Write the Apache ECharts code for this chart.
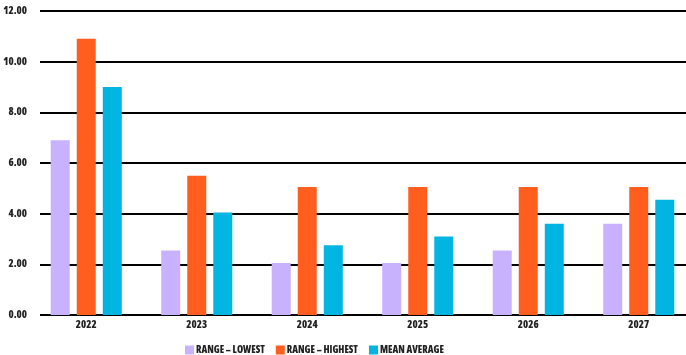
<!DOCTYPE html>
<html><head><meta charset="utf-8">
<script src="https://cdn.jsdelivr.net/npm/echarts@6/dist/echarts.min.js"></script>
<style>html,body{margin:0;padding:0;background:#fff}#c{width:686px;height:355px}</style>
</head><body><div id="c"></div>
<script>
var categories = ['2022','2023','2024','2025','2026','2027'];
var rangeLowest = [6.9, 2.55, 2.05, 2.05, 2.55, 3.6];
var rangeHighest = [10.9, 5.5, 5.05, 5.05, 5.05, 5.05];
var meanAverage = [9.0, 4.05, 2.75, 3.1, 3.6, 4.55];
var seriesNames = ['RANGE – LOWEST', 'RANGE – HIGHEST', 'MEAN AVERAGE'];
var colors = ['#C8B2FE', '#FF5E1F', '#00B5E2'];
var font = '"Open Sans",sans-serif';
var fw = '800 condensed';

var chart = echarts.init(document.getElementById('c'));
chart.setOption({
  animation: false,
  color: colors,
  grid: [
    {left: 40, width: 646, top: 11, bottom: 40, outerBoundsMode: 'none', containLabel: false},
    {left: 31, width: 663, top: 11, bottom: 40, outerBoundsMode: 'none', containLabel: false}
  ],
  legend: {
    left: 180, top: 340, itemWidth: 9, itemHeight: 9, itemGap: 11,
    icon: 'rect',
    textStyle: {fontFamily: font, fontWeight: fw, fontSize: 10, color: '#222', padding: [0,0,0,-3]},
    data: seriesNames
  },
  xAxis: [
    {gridIndex: 0, type: 'category', data: categories, show: false},
    {gridIndex: 1, type: 'category', data: categories,
     axisLine: {show: false}, axisTick: {show: false},
     axisLabel: {fontFamily: font, fontWeight: fw, fontSize: 10.5, color: '#222', margin: 5}}
  ],
  yAxis: [
    {gridIndex: 0, type: 'value', min: 0, max: 12, interval: 2,
     axisLine: {show: false}, axisTick: {show: false},
     axisLabel: {fontFamily: font, fontWeight: fw, fontSize: 10.5, color: '#222', margin: 13,
       formatter: function(v){return v.toFixed(2);}},
     splitLine: {lineStyle: {color: '#000', width: 2}}},
    {gridIndex: 1, type: 'value', min: 0, max: 12, interval: 2, show: false, splitLine: {show: false}}
  ],
  series: [
    {name: seriesNames[0], type: 'bar', xAxisIndex: 1, yAxisIndex: 1, data: rangeLowest, barWidth: 19, barGap: '37%'},
    {name: seriesNames[1], type: 'bar', xAxisIndex: 1, yAxisIndex: 1, data: rangeHighest, barWidth: 19, barGap: '37%'},
    {name: seriesNames[2], type: 'bar', xAxisIndex: 1, yAxisIndex: 1, data: meanAverage, barWidth: 19, barGap: '37%'}
  ]
});
</script></body></html>
